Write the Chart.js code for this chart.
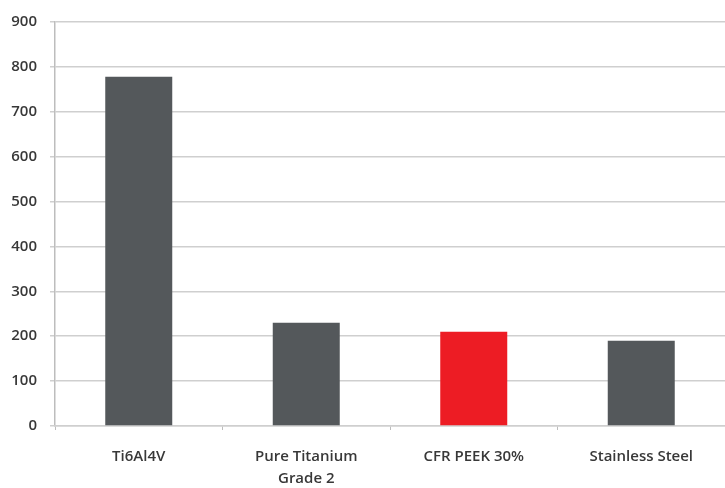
<!DOCTYPE html>
<html>
<head>
<meta charset="utf-8">
<script src="https://cdn.jsdelivr.net/npm/chart.js@4.4.0/dist/chart.umd.min.js"></script>
<style>
  html, body { margin: 0; padding: 0; background: #fff; }
  #wrap { width: 725px; height: 488px; }
</style>
</head>
<body>
<div id="wrap"><canvas id="barcanvas"></canvas></div>
<script>
// chart data
var materials = ["Ti6Al4V", ["Pure Titanium", "Grade 2"], "CFR PEEK 30%", "Stainless Steel"];
var strength = [778, 230, 210, 190];
var barColors = ["#54585b", "#54585b", "#ed1c24", "#54585b"];
var yTicks = [0, 100, 200, 300, 400, 500, 600, 700, 800, 900];

var ctx = document.getElementById("barcanvas");

var chart = new Chart(ctx, {
  type: "bar",
  data: {
    labels: materials,
    datasets: [{
      data: strength,
      backgroundColor: barColors,
      borderWidth: 0,
      barPercentage: 0.4,
      categoryPercentage: 1
    }]
  },
  options: {
    responsive: true,
    maintainAspectRatio: false,
    animation: false,
    layout: { padding: { top: 10, right: -3, bottom: 0, left: 0 } },
    plugins: {
      legend: { display: false },
      tooltip: { enabled: false }
    },
    scales: {
      y: {
        min: 0,
        max: 900,
        afterBuildTicks: function(scale) {
          scale.ticks = yTicks.map(function(v) { return { value: v }; });
        },
        afterFit: function(scale) { scale.width = 55; },
        grid: { color: "#cfcfcf", lineWidth: 1.5, tickLength: 5 },
        border: { display: true, color: "#bdbdbd", width: 1.5 },
        ticks: {
          color: "#383838",
          padding: 13,
          font: { family: "Open Sans", size: 15, weight: "600" }
        }
      },
      x: {
        afterFit: function(scale) { scale.height = 62; },
        grid: {
          offset: true,
          drawOnChartArea: false,
          drawTicks: true,
          tickLength: 4,
          color: "#bdbdbd"
        },
        border: { display: true, color: "#cfcfcf", width: 1.5 },
        ticks: {
          color: "#383838",
          padding: 15,
          maxRotation: 0,
          font: { family: "Open Sans", size: 15, weight: "600", lineHeight: 1.5 }
        }
      }
    }
  }
});
</script>
</body>
</html>
